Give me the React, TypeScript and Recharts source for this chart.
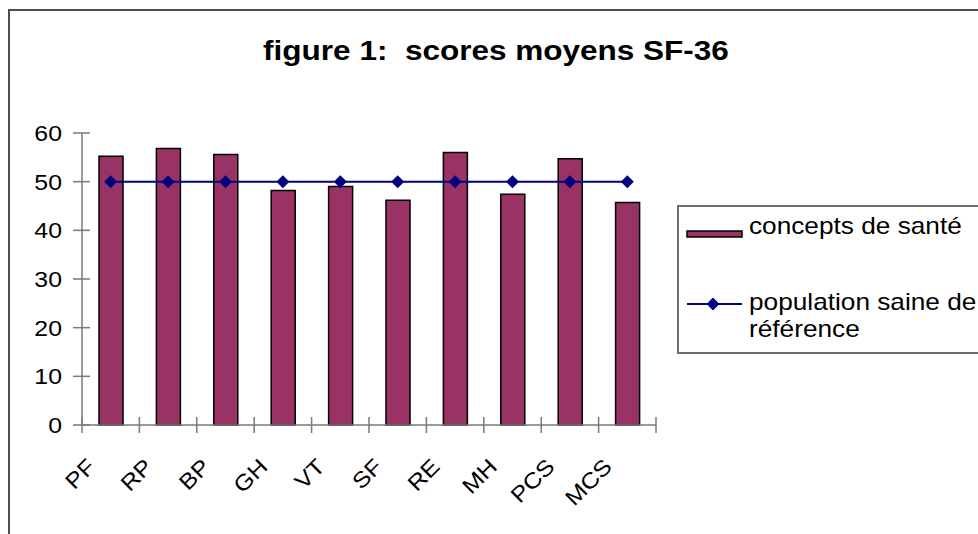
import React from "react";
import { Bar, ComposedChart, Legend, Line, XAxis, YAxis } from "recharts";

const CATEGORIES = ["PF", "RP", "BP", "GH", "VT", "SF", "RE", "MH", "PCS", "MCS"];
const SCORES = [55.2, 56.8, 55.6, 48.2, 49.0, 46.2, 56.0, 47.4, 54.7, 45.7];
const REFERENCE = [50, 50, 50, 50, 50, 50, 50, 50, 50, 50];
const Y_TICKS = [0, 10, 20, 30, 40, 50, 60];

const W = 978;
const H = 534;
const PLOT_LEFT = 82;
const PLOT_RIGHT = 656;
const PLOT_TOP = 133;
const PLOT_BOTTOM = 425;
const BAND = (PLOT_RIGHT - PLOT_LEFT) / CATEGORIES.length;

const PLUM = "#993366";
const NAVY = "#000080";
const AXIS = "#7a7a7a";
const FONT = '"Liberation Sans", Arial, sans-serif';
const STRETCH = 1.13; // the original text is a bit wider than plain Arial

// note: don't call a field "ref", Bar spreads the row onto its rectangles
const data = CATEGORIES.map((name, i) => ({
  name,
  score: SCORES[i],
  saine: REFERENCE[i],
}));

function renderYTick(props: any) {
  const y = props.y;
  const value = props.payload?.value;
  return (
    <g key={`y-${value}`}>
      <line x1={PLOT_LEFT - 9} x2={PLOT_LEFT + 8} y1={y} y2={y} stroke={AXIS} strokeWidth={1.5} />
      <text
        transform={`translate(${PLOT_LEFT - 20},${y + 8}) scale(${STRETCH},1)`}
        textAnchor="end"
        fontSize={22}
        fontFamily={FONT}
        fill="#000"
      >
        {value}
      </text>
    </g>
  );
}

function renderXTick(props: any) {
  const x = props.x;
  const index = props.index;
  const value = props.payload?.value;
  const last = index === CATEGORIES.length - 1;
  return (
    <g key={`x-${value}`}>
      <line x1={x - BAND / 2} x2={x - BAND / 2} y1={PLOT_BOTTOM - 8} y2={PLOT_BOTTOM + 8} stroke={AXIS} strokeWidth={1.5} />
      {last && (
        <line x1={x + BAND / 2} x2={x + BAND / 2} y1={PLOT_BOTTOM - 8} y2={PLOT_BOTTOM + 8} stroke={AXIS} strokeWidth={1.5} />
      )}
      <text
        transform={`translate(${x - 14},${PLOT_BOTTOM + 43}) rotate(-45) scale(${STRETCH},1)`}
        textAnchor="end"
        fontSize={22}
        fontFamily={FONT}
        fill="#000"
      >
        {value}
      </text>
    </g>
  );
}

function renderDiamond(props: any) {
  const { cx, cy, index } = props;
  if (cx == null || cy == null) return <g key={`d-${index}`} />;
  const r = 6.5;
  return <path key={`d-${index}`} d={`M${cx},${cy - r}L${cx + r},${cy}L${cx},${cy + r}L${cx - r},${cy}Z`} fill={NAVY} />;
}

function LegendBox() {
  const txt = (x: number, y: number, s: string) => (
    <text transform={`translate(${x},${y}) scale(1.14,1)`} fontSize={23} fontFamily={FONT} fill="#000">
      {s}
    </text>
  );
  return (
    <div style={{ width: 310, height: 149, border: "2px solid #6e6e6e", boxSizing: "border-box", background: "#fff", overflow: "hidden" }}>
      <svg width={310} height={149} style={{ display: "block", marginLeft: -2, marginTop: -2 }}>
        <rect x={10} y={26} width={55} height={6} fill={PLUM} stroke="#000" strokeWidth={1.5} />
        {txt(72, 29, "concepts de santé")}
        <line x1={10} x2={65} y1={99} y2={99} stroke={NAVY} strokeWidth={2} />
        <path d="M36,92.5L42.5,99L36,105.5L29.5,99Z" fill={NAVY} />
        {txt(72, 105, "population saine de")}
        {txt(72, 132, "référence")}
      </svg>
    </div>
  );
}

export default function App() {
  return (
    <div style={{ position: "absolute", left: 0, top: 0, width: W, height: H, overflow: "hidden", background: "#fff" }}>
      <svg width={W} height={H} style={{ position: "absolute", left: 0, top: 0 }}>
        <rect x={9} y={10} width={1100} height={700} fill="none" stroke="#4d4d4d" strokeWidth={2} />
        <text
          transform="translate(496,60) scale(1.126,1)"
          textAnchor="middle"
          fontSize={28}
          fontWeight="bold"
          fontFamily={FONT}
          fill="#000"
        >
          {"figure 1:\u00a0 scores moyens SF-36"}
        </text>
      </svg>
      <div style={{ position: "absolute", left: 0, top: 0 }}>
        <ComposedChart
          width={W}
          height={H}
          data={data}
          margin={{ top: PLOT_TOP, right: W - PLOT_RIGHT, bottom: H - PLOT_BOTTOM - 80, left: PLOT_LEFT - 60 }}
        >
          <XAxis
            dataKey="name"
            height={80}
            tickLine={false}
            tickSize={0}
            tickMargin={0}
            axisLine={{ stroke: AXIS, strokeWidth: 1.5 }}
            tick={renderXTick}
            interval={0}
          />
          <YAxis
            width={60}
            domain={[0, 60]}
            ticks={Y_TICKS}
            tickLine={false}
            tickSize={0}
            axisLine={{ stroke: AXIS, strokeWidth: 1.5 }}
            tick={renderYTick}
            interval={0}
          />
          <Legend
            layout="horizontal"
            align="center"
            verticalAlign="middle"
            content={() => <LegendBox />}
            wrapperStyle={{ position: "absolute", left: 677, top: 205, width: 310, height: 149 }}
          />
          <Bar dataKey="score" name="concepts de santé" fill={PLUM} stroke="#000" strokeWidth={1.5} barSize={24} isAnimationActive={false} />
          <Line
            dataKey="saine"
            name="population saine de référence"
            stroke={NAVY}
            strokeWidth={2}
            dot={renderDiamond}
            activeDot={false}
            isAnimationActive={false}
          />
        </ComposedChart>
      </div>
    </div>
  );
}
